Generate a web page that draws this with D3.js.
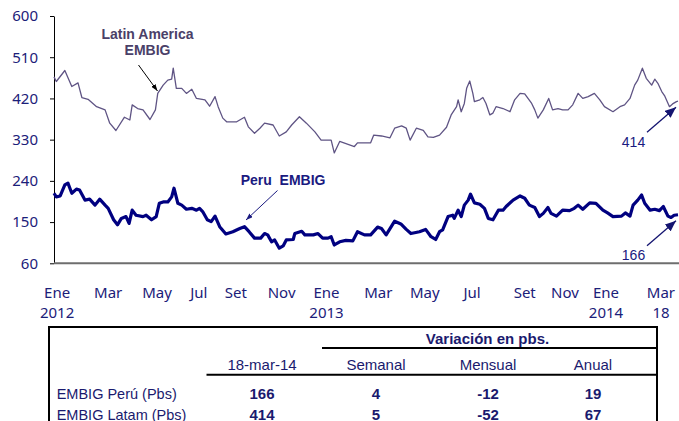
<!DOCTYPE html>
<html>
<head>
<meta charset="utf-8">
<script src="https://cdn.jsdelivr.net/npm/d3@7"></script>
<style>
  body { margin: 0; background: #fff; }
  svg { display: block; }
</style>
</head>
<body>
<svg id="chart" width="679" height="421"></svg>
<script>
// ---- data (spreads in basis points) ----
const latamDates = [
  "2012-01-02","2012-01-05","2012-01-16","2012-01-25","2012-02-02","2012-02-07","2012-02-15","2012-02-26",
  "2012-03-08","2012-03-14","2012-03-22","2012-04-02","2012-04-09","2012-04-12","2012-04-19","2012-04-26",
  "2012-05-05","2012-05-12","2012-05-15","2012-05-22","2012-05-28","2012-06-02","2012-06-04","2012-06-08",
  "2012-06-15","2012-06-21","2012-06-28","2012-07-04","2012-07-15","2012-07-21","2012-07-28","2012-08-01",
  "2012-08-07","2012-08-12","2012-08-25","2012-09-04","2012-09-09","2012-09-17","2012-09-24","2012-09-30",
  "2012-10-11","2012-10-19","2012-10-28","2012-11-04","2012-11-14","2012-11-23","2012-12-04","2012-12-12",
  "2012-12-25","2012-12-29","2013-01-05","2013-01-24","2013-01-28","2013-02-14","2013-02-18","2013-02-28",
  "2013-03-11","2013-03-17","2013-03-26","2013-04-01","2013-04-06","2013-04-14","2013-04-23","2013-04-29",
  "2013-05-06","2013-05-14","2013-05-23","2013-05-29","2013-06-05","2013-06-07","2013-06-11","2013-06-15",
  "2013-06-18","2013-06-22","2013-06-26","2013-06-28","2013-07-05","2013-07-09","2013-07-13","2013-07-18",
  "2013-07-22","2013-07-26","2013-08-04","2013-08-13","2013-08-19","2013-08-26","2013-09-01","2013-09-10",
  "2013-09-14","2013-09-18","2013-09-25","2013-10-02","2013-10-07","2013-10-14","2013-10-20","2013-10-27",
  "2013-11-02","2013-11-09","2013-11-15","2013-11-22","2013-11-30","2013-12-07","2013-12-13","2013-12-24",
  "2014-01-02","2014-01-08","2014-01-15","2014-01-21","2014-01-25","2014-01-31","2014-02-05","2014-02-12",
  "2014-02-16","2014-02-20","2014-02-25","2014-03-01","2014-03-07","2014-03-11","2014-03-16","2014-03-18"
];
const latamValues = [
  467, 457, 481, 446, 454, 422, 418, 402,
  395, 366, 350, 379, 373, 406, 398, 395,
  374, 395, 431, 449, 460, 462, 486, 442,
  442, 431, 440, 420, 417, 403, 424, 402,
  377, 369, 369, 379, 358, 344, 355, 366,
  362, 338, 347, 362, 380, 366, 347, 329,
  329, 301, 326, 315, 323, 323, 340, 338,
  334, 355, 360, 355, 329, 355, 350, 336,
  335, 340, 357, 384, 402, 417, 391, 409,
  442, 458, 431, 413, 417, 422, 409, 384,
  388, 402, 398, 391, 417, 431, 430, 409,
  395, 377, 395, 420, 395, 398, 395, 395,
  406, 431, 420, 424, 431, 417, 402, 391,
  402, 406, 420, 449, 460, 486, 464, 449,
  462, 453, 435, 425, 402, 408, 413, 414
];

const peruDates = [
  "2012-01-02","2012-01-05","2012-01-10","2012-01-16","2012-01-20","2012-01-25","2012-01-31","2012-02-04",
  "2012-02-11","2012-02-17","2012-02-24","2012-03-01","2012-03-08","2012-03-12","2012-03-19","2012-03-24",
  "2012-03-29","2012-04-04","2012-04-08","2012-04-12","2012-04-17","2012-04-26","2012-04-30","2012-05-07",
  "2012-05-13","2012-05-17","2012-05-22","2012-05-28","2012-06-02","2012-06-05","2012-06-10","2012-06-15",
  "2012-06-21","2012-06-28","2012-07-04","2012-07-08","2012-07-12","2012-07-18","2012-07-23","2012-07-28",
  "2012-08-03","2012-08-11","2012-08-20","2012-08-29","2012-09-04","2012-09-10","2012-09-17","2012-09-25",
  "2012-09-30","2012-10-04","2012-10-09","2012-10-13","2012-10-19","2012-10-24","2012-10-28","2012-11-06",
  "2012-11-08","2012-11-17","2012-11-21","2012-12-02","2012-12-08","2012-12-14","2012-12-21","2012-12-25",
  "2012-12-29","2013-01-05","2013-01-13","2013-01-22","2013-01-28","2013-02-06","2013-02-14","2013-02-23",
  "2013-02-28","2013-03-06","2013-03-17","2013-03-25","2013-04-01","2013-04-07","2013-04-18","2013-04-26",
  "2013-05-03","2013-05-09","2013-05-14","2013-05-18","2013-05-25","2013-05-31","2013-06-02","2013-06-07",
  "2013-06-11","2013-06-15","2013-06-20","2013-06-23","2013-06-28","2013-07-05","2013-07-11","2013-07-16",
  "2013-07-22","2013-07-29","2013-08-04","2013-08-08","2013-08-17","2013-08-26","2013-09-01","2013-09-07",
  "2013-09-14","2013-09-20","2013-09-25","2013-10-01","2013-10-05","2013-10-12","2013-10-20","2013-10-29",
  "2013-11-04","2013-11-09","2013-11-15","2013-11-24","2013-12-02","2013-12-11","2013-12-17","2013-12-24",
  "2014-01-04","2014-01-09","2014-01-15","2014-01-19","2014-01-25","2014-01-30","2014-02-03","2014-02-10",
  "2014-02-16","2014-02-22","2014-02-27","2014-03-05","2014-03-09","2014-03-13","2014-03-18"
];
const peruValues = [
  213, 205, 207, 231, 235, 213, 222, 220,
  198, 200, 187, 200, 187, 180, 155, 144,
  158, 162, 147, 176, 165, 162, 165, 155,
  162, 191, 194, 194, 205, 224, 191, 187,
  178, 180, 176, 180, 173, 155, 151, 163,
  140, 124, 129, 136, 140, 129, 115, 115,
  125, 122, 107, 111, 93, 98, 111, 112,
  125, 130, 122, 122, 125, 115, 115, 118,
  100, 107, 110, 109, 129, 122, 122, 139,
  136, 122, 152, 146, 134, 125, 129, 134,
  118, 112, 129, 133, 162, 165, 158, 176,
  162, 187, 198, 211, 192, 189, 180, 158,
  155, 176, 176, 184, 198, 207, 202, 187,
  182, 162, 169, 182, 169, 163, 176, 175,
  180, 187, 178, 192, 191, 176, 170, 162,
  163, 170, 163, 187, 198, 209, 191, 176,
  178, 175, 184, 163, 160, 165, 166
];

const yTicks = [60, 150, 240, 330, 420, 510, 600];
const monthLabels = ["Ene","Mar","May","Jul","Set","Nov","Ene","Mar","May","Jul","Set","Nov","Ene","Mar"];
const yearLabels  = ["2012","","","","","","2013","","","","","","2014","18"];
const labelDates  = ["2012-01-06","2012-03-12","2012-05-14","2012-07-07","2012-08-24","2012-10-22","2012-12-19",
                     "2013-02-24","2013-04-25","2013-06-25","2013-09-01","2013-10-23","2013-12-15","2014-02-24"];

const tableHeaders = ["18-mar-14", "Semanal", "Mensual", "Anual"];
const tableRows    = ["EMBIG Perú (Pbs)", "EMBIG Latam (Pbs)"];
const tableLevel   = [166, 414];
const tableWeekly  = [4, 5];
const tableMonthly = [-12, -52];
const tableAnnual  = [19, 67];

// ---- setup ----
const parse = d3.timeParse("%Y-%m-%d");
const svg = d3.select("#chart");
const navy = "#1b2079";
const tickFont = "'Noto Sans', 'Open Sans', sans-serif";
const tableFont = "'Liberation Sans', Arial, sans-serif";

const plot = { left: 54, right: 678, top: 16, bottom: 263.3 };

const latam = latamDates.map((d, i) => ({ date: parse(d), value: latamValues[i] }));
const peru = peruDates.map((d, i) => ({ date: parse(d), value: peruValues[i] }));

const x = d3.scaleTime()
  .domain([parse("2012-01-02"), parse("2014-03-18")])
  .range([plot.left, plot.right]);
const y = d3.scaleLinear().domain([60, 600]).range([plot.bottom, plot.top]);

// arrow markers
const defs = svg.append("defs");
function marker(id, color, len, wid) {
  defs.append("marker")
    .attr("id", id)
    .attr("markerUnits", "userSpaceOnUse")
    .attr("viewBox", `0 0 ${len} ${wid}`)
    .attr("refX", len).attr("refY", wid / 2)
    .attr("markerWidth", len).attr("markerHeight", wid)
    .attr("orient", "auto")
    .append("path")
    .attr("d", `M0,0L${len},${wid / 2}L0,${wid}Z`)
    .attr("fill", color);
}
marker("arrBlack", "#000", 7, 5);
marker("arrNavy", "#1a1a80", 7, 5);
marker("arrBig", "#141470", 11, 9);

// ---- axes ----
const yAxis = svg.append("g")
  .attr("transform", `translate(${plot.left},0)`)
  .call(d3.axisLeft(y).tickValues(yTicks).tickSize(4).tickSizeOuter(0).tickPadding(12));
yAxis.select(".domain").attr("stroke", "#000");
yAxis.selectAll(".tick line").attr("stroke", "#000");
yAxis.selectAll(".tick text")
  .attr("fill", navy)
  .style("font-family", tickFont)
  .style("font-size", "15px");

svg.append("line")
  .attr("x1", plot.left).attr("x2", plot.right + 1)
  .attr("y1", y(60)).attr("y2", y(60))
  .attr("stroke", "#6e6e6e").attr("stroke-width", 2);

const xLab = svg.append("g").attr("class", "x-labels")
  .style("font-family", tickFont).style("font-size", "15px")
  .attr("fill", navy).attr("text-anchor", "middle");
xLab.selectAll("text.m").data(monthLabels).enter().append("text")
  .attr("class", "m")
  .attr("x", (d, i) => x(parse(labelDates[i])))
  .attr("y", 298.3)
  .text(d => d);
xLab.selectAll("text.yr").data(yearLabels).enter().append("text")
  .attr("class", "yr")
  .attr("x", (d, i) => x(parse(labelDates[i])))
  .attr("y", 318)
  .text(d => d);

// ---- lines ----
const line = d3.line().x(d => x(d.date)).y(d => y(d.value));

svg.append("path")
  .datum(latam)
  .attr("fill", "none")
  .attr("stroke", "#5f5484")
  .attr("stroke-width", 1.3)
  .attr("stroke-linejoin", "round")
  .attr("d", line);

svg.append("path")
  .datum(peru)
  .attr("fill", "none")
  .attr("stroke", "#000080")
  .attr("stroke-width", 3.2)
  .attr("stroke-linejoin", "round")
  .attr("d", line);

// ---- annotations ----
const ann = svg.append("g").style("font-family", tableFont);

ann.append("text").attr("x", 147.5).attr("y", 39.3)
  .attr("text-anchor", "middle").attr("font-weight", "bold")
  .attr("font-size", "14px").attr("fill", "#4a4068")
  .text("Latin America");
ann.append("text").attr("x", 147.5).attr("y", 55)
  .attr("text-anchor", "middle").attr("font-weight", "bold")
  .attr("font-size", "14px").attr("fill", "#4a4068")
  .text("EMBIG");
ann.append("line")
  .attr("x1", 138.5).attr("y1", 65).attr("x2", 157.5).attr("y2", 91)
  .attr("stroke", "#000").attr("stroke-width", 1)
  .attr("marker-end", "url(#arrBlack)");

ann.append("text").attr("x", 240.7).attr("y", 185)
  .attr("font-weight", "bold").attr("font-size", "14px").attr("fill", "#1a1a80")
  .attr("xml:space", "preserve")
  .text("Peru  EMBIG");
ann.append("line")
  .attr("x1", 277.5).attr("y1", 190.5).attr("x2", 246).attr("y2", 220)
  .attr("stroke", "#1a1a80").attr("stroke-width", 1)
  .attr("marker-end", "url(#arrNavy)");

const lastLatam = latam[latam.length - 1];
const lastPeru = peru[peru.length - 1];
[[lastLatam, 147.3], [lastPeru, 260]].forEach(([p, ty]) => {
  const tx = x(p.date) - 2, tyTip = y(p.value) + 6;
  ann.append("line")
    .attr("x1", tx - 29).attr("y1", tyTip + 25).attr("x2", tx).attr("y2", tyTip)
    .attr("stroke", "#141470").attr("stroke-width", 1.3)
    .attr("marker-end", "url(#arrBig)");
  ann.append("text")
    .attr("x", 633.5).attr("y", ty)
    .attr("text-anchor", "middle")
    .attr("font-size", "14px").attr("fill", "#1a1a80")
    .text(p.value);
});

// ---- table ----
const tbl = svg.append("g").style("font-family", tableFont).attr("fill", "#1a1a6e");
const colX = [262, 376, 488, 593];
const rowY = [398.7, 419.7];

tbl.append("rect")
  .attr("x", 49).attr("y", 327).attr("width", 608).attr("height", 120)
  .attr("fill", "none").attr("stroke", "#000").attr("stroke-width", 2);

tbl.append("text").attr("x", 487.5).attr("y", 343.7)
  .attr("text-anchor", "middle").attr("font-weight", "bold").attr("font-size", "15px")
  .text("Variación en pbs.");
tbl.append("line").attr("x1", 322).attr("x2", 656).attr("y1", 348).attr("y2", 348)
  .attr("stroke", "#000").attr("stroke-width", 2);

tbl.selectAll("text.hdr").data(tableHeaders).enter().append("text")
  .attr("class", "hdr")
  .attr("x", (d, i) => colX[i]).attr("y", 370.3)
  .attr("text-anchor", "middle").attr("font-size", "15px")
  .text(d => d);
tbl.append("line").attr("x1", 206.5).attr("x2", 656).attr("y1", 374.7).attr("y2", 374.7)
  .attr("stroke", "#000").attr("stroke-width", 2);

tbl.selectAll("text.row").data(tableRows).enter().append("text")
  .attr("class", "row")
  .attr("x", 56.7).attr("y", (d, i) => rowY[i])
  .attr("font-size", "14.5px")
  .text(d => d);

[tableLevel, tableWeekly, tableMonthly, tableAnnual].forEach((col, c) => {
  tbl.selectAll(`text.c${c}`).data(col).enter().append("text")
    .attr("class", `c${c}`)
    .attr("x", colX[c]).attr("y", (d, i) => rowY[i])
    .attr("text-anchor", "middle").attr("font-weight", "bold").attr("font-size", "15px")
    .text(d => d);
});
</script>
</body>
</html>
